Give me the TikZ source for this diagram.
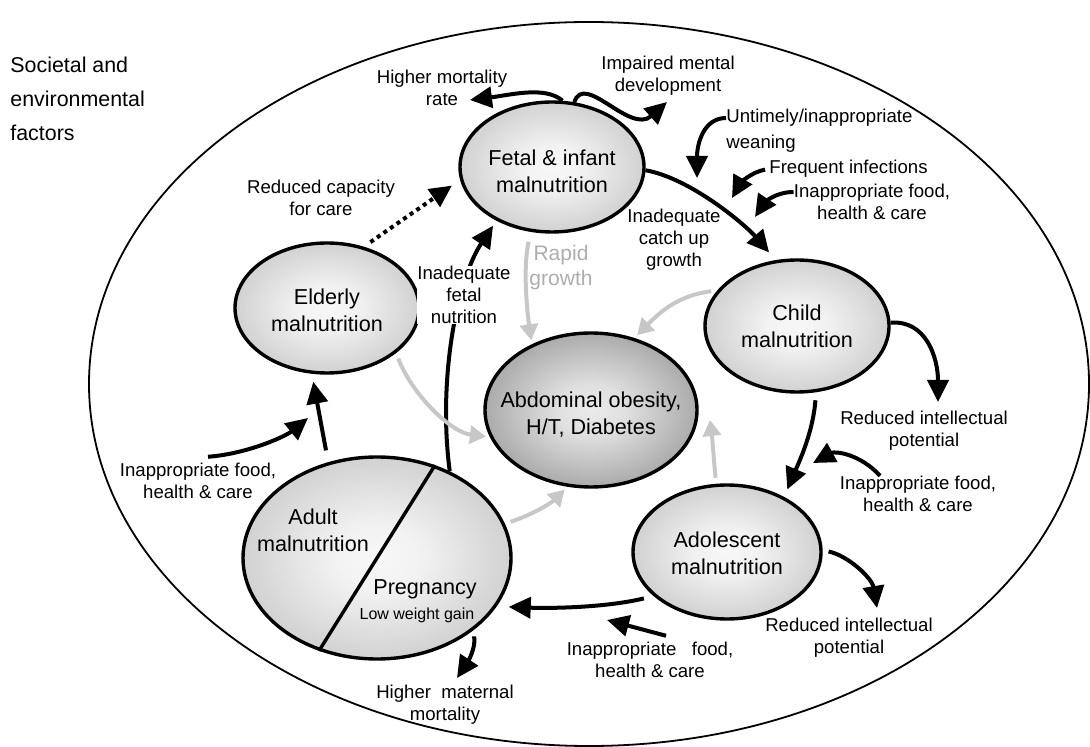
\documentclass[tikz,border=0pt]{standalone}
\usepackage{fontspec}
\setmainfont{Liberation Sans}
\usetikzlibrary{shapes,arrows.meta}
\pgfdeclareradialshading{lightoval}{\pgfpoint{0bp}{0bp}}{rgb(0bp)=(0.97,0.97,0.97); rgb(8bp)=(0.95,0.95,0.95); rgb(50bp)=(0.63,0.63,0.63)}
\pgfdeclareradialshading{darkoval}{\pgfpoint{0bp}{0bp}}{rgb(0bp)=(0.92,0.92,0.92); rgb(8bp)=(0.88,0.88,0.88); rgb(50bp)=(0.36,0.36,0.36)}

\begin{document}
\begin{tikzpicture}[x=0.5pt,y=-0.5pt]
\tikzstyle{oval}=[ellipse,draw,line width=1.7pt,shading=lightoval,inner sep=0pt]
\tikzstyle{ovaltext}=[align=center,inner sep=0pt,font=\fontsize{10.8}{13.5}\selectfont]
\tikzstyle{note}=[align=center,inner sep=0pt,font=\fontsize{9.3}{11}\selectfont]
\tikzstyle{link}=[line width=2pt,-{Triangle[length=11pt,width=10.5pt]}]
\tikzstyle{faint}=[line width=2pt,black!22,-{Triangle[length=8pt,width=9pt]}]
\useasboundingbox (0,0) rectangle (1090,747);
\draw[line width=0.9pt] (589,384) ellipse [x radius=500,y radius=362];

\node[anchor=north west,align=left,inner sep=0pt,font=\fontsize{10.7}{17}\selectfont] (societal) at (10,57) {Societal and\\environmental\\factors};

\node[oval,minimum width=92pt,minimum height=65pt] (fetal) at (552,167) {};
\node[oval,minimum width=92pt,minimum height=66pt] (child) at (797,326) {};
\node[oval,minimum width=94pt,minimum height=67pt] (adol) at (727,552) {};
\node[oval,minimum width=134pt,minimum height=101pt] (adult) at (377,558) {};
\node[oval,minimum width=92pt,minimum height=65pt] (elderly) at (327,308) {};
\node[oval,shading=darkoval,minimum width=106pt,minimum height=77pt] (abdo) at (591,410) {};
\draw[line width=1.7pt] (adult.58) -- (adult.238);

\node[ovaltext] (fetaltxt) at (552,171) {Fetal \& infant\\malnutrition};
\node[ovaltext] (childtxt) at (797,326) {Child\\malnutrition};
\node[ovaltext] (adoltxt) at (727,553) {Adolescent\\malnutrition};
\node[ovaltext] (elderlytxt) at (327,310) {Elderly\\malnutrition};
\node[ovaltext] (abdotxt) at (591,415) {Abdominal obesity,\\H/T, Diabetes};
\node[ovaltext] (adulttxt) at (313,530) {Adult\\malnutrition};
\node[ovaltext] (pregtxt) at (425,589) {Pregnancy};
\node[note,font=\fontsize{8}{10}\selectfont] (gaintxt) at (417,615) {Low weight gain};

\node[note] (mortality) at (442,88) {Higher mortality\\rate};
\node[note] (impaired) at (668,76) {Impaired mental\\development};
\node[note,align=left,anchor=west,font=\fontsize{9.3}{13}\selectfont] (weaning) at (726,131) {Untimely/inappropriate\\weaning};
\node[note,anchor=west] (infections) at (769,169) {Frequent infections};
\node[note] (foodA) at (872,202) {Inappropriate food,\\health \& care};
\node[note] (catchup) at (674,240) {Inadequate\\catch up\\growth};
\node[note] (capacity) at (321,198) {Reduced capacity\\for care};
\node[note,black!32,font=\fontsize{10.5}{12.5}\selectfont] (rapid) at (561,268) {Rapid\\growth};
\node[note] (intelA) at (924,431) {Reduced intellectual\\potential};
\node[note] (foodB) at (918,494) {Inappropriate food,\\health \& care};
\node[note] (intelB) at (849,638) {Reduced intellectual\\potential};
\node[note] (foodC) at (650,660) {Inappropriate \ \ food,\\health \& care};
\node[note] (maternal) at (445,705) {Higher \ maternal\\mortality};
\node[note] (foodD) at (198,481) {Inappropriate food,\\health \& care};

\coordinate (mortalitytip) at (470,100);
\coordinate (impairedtip) at (667,102);
\coordinate (weaningtip) at (697,178);
\coordinate (infectionstip) at (732,198);
\coordinate (foodAtip) at (755,217);
\coordinate (foodBtip) at (813,463);
\coordinate (foodCtip) at (607,620);
\coordinate (foodDtip) at (308,418);
\coordinate (intelAtip) at (938,402);
\coordinate (intelBtip) at (877,608);
\coordinate (maternaltip) at (457,678);
\coordinate (adoltip) at (710,420);

\draw[link,shorten >=5pt] (fetal.-2) .. controls +(45,8) and +(-30,-35) .. (child.108);
\draw[link,shorten <=4pt,shorten >=4pt] (child.286) .. controls +(-3,40) and +(15,-35) .. (adol.44);
\draw[link,shorten <=5pt,shorten >=6pt] (adol.211) .. controls +(-50,12) and +(50,2) .. (adult.-22);
\draw[link,shorten <=6pt,shorten >=4pt] (adult.117) -- (elderly.257);
\draw[link,shorten >=3pt] (adult.50) .. controls +(-12,-90) and +(-40,60) .. (fetal.224);
\node[note,fill=white] (fetalnut) at (464,295) {Inadequate\\fetal\\nutrition};
\draw[link,dash pattern=on 2pt off 2pt,shorten <=4pt,shorten >=5pt] (elderly.59) -- (fetal.188);

\draw[link] (fetal.81) .. controls +(-17,-15) and +(40,-5) .. (mortalitytip);
\draw[link] (fetal.71) .. controls +(10,-31) and +(-37,33) .. (impairedtip);
\draw[link] ([yshift=6.5pt]weaning.west) .. controls +(-22,0) and +(0,-35) .. (weaningtip);
\draw[link,shorten <=2pt] (infections.west) .. controls +(-18,3) and +(8,-14) .. (infectionstip);
\draw[link] ([yshift=5pt]foodA.west) .. controls +(-20,0) and +(8,-12) .. (foodAtip);
\draw[link] (child.2) .. controls +(35,-3) and +(0,-45) .. (intelAtip);
\draw[link] ([xshift=-19pt]foodB.north) .. controls +(-20,-22) and +(22,-12) .. (foodBtip);
\draw[link,shorten <=3pt] (adol.1) .. controls +(25,5) and +(-5,-30) .. (intelBtip);
\draw[link] ([xshift=8pt,yshift=3pt]foodC.north) -- (foodCtip);
\draw[link,shorten <=3pt] (adult.-37) .. controls +(3,18) and +(10,-15) .. (maternaltip);
\draw[link] ([xshift=5pt,yshift=3pt]foodD.north) .. controls +(40,-3) and +(-22,18) .. (foodDtip);

\draw[faint,shorten <=5pt,shorten >=2pt] (fetal.252) .. controls +(-8,35) and +(-5,-35) .. (abdo.132);
\draw[faint,shorten <=3pt,shorten >=2pt] (child.156) .. controls +(-40,5) and +(25,-25) .. (abdo.59);
\draw[faint,shorten <=3pt,shorten >=2pt] (elderly.-33) .. controls +(15,40) and +(-40,-5) .. (abdo.195);
\draw[faint,shorten <=3pt,shorten >=2pt] (adult.15) .. controls +(30,-10) and +(-15,15) .. (abdo.253);
\draw[faint,shorten <=3pt] (adol.99) .. controls +(-3,-30) and +(3,25) .. (adoltip);
\end{tikzpicture}
\end{document}
